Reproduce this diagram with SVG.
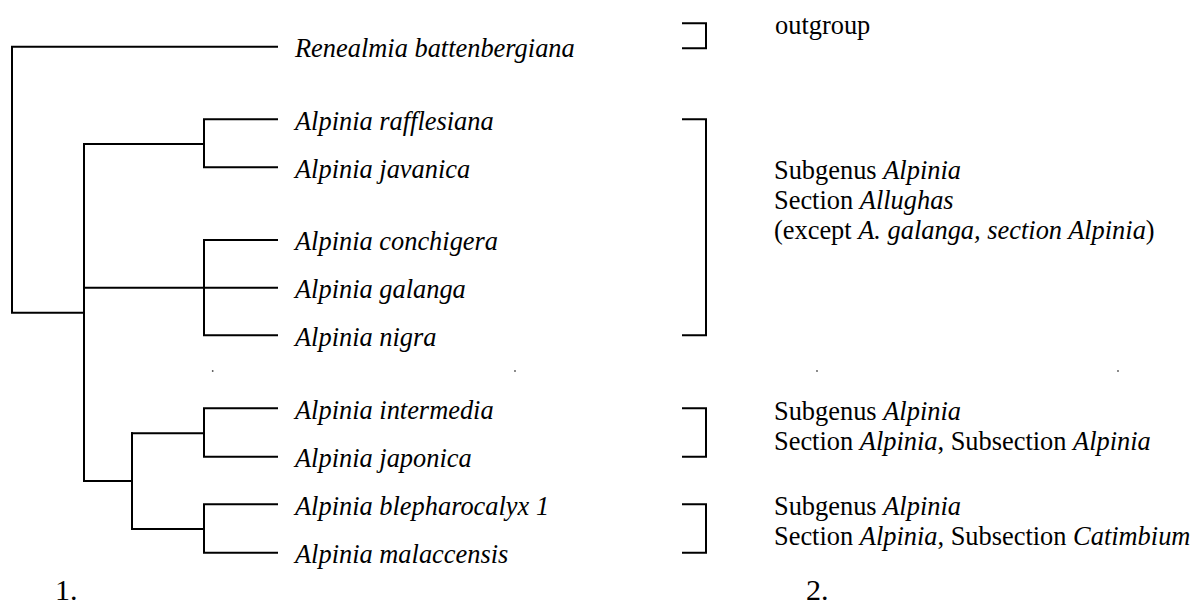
<svg xmlns="http://www.w3.org/2000/svg" width="1193" height="607" viewBox="0 0 1193 607">
<style>
.ln{fill:none;stroke:#000;stroke-width:2;stroke-linecap:square}
.tx{font-family:"Liberation Serif","Times New Roman",serif;font-size:26.4px;fill:#000}
.it{font-style:italic}
.num{font-family:"Liberation Serif","Times New Roman",serif;font-size:30px;fill:#000}
.dot{fill:#555}
</style>
<rect width="1193" height="607" fill="#fff"/>
<g id="connectors">
<path class="ln" d="M277,46.7 H12 V312.7 H84"/>
<path class="ln" d="M84,144 V481"/>
<path class="ln" d="M84,144 H204 M204,119.3 V167.3 M204,119.3 H277 M204,167.3 H277"/>
<path class="ln" d="M84,287.7 H277"/>
<path class="ln" d="M204,240 V335.3 M204,240 H277 M204,335.3 H277"/>
<path class="ln" d="M84,481 H132 M132,433.3 V529"/>
<path class="ln" d="M132,433.3 H204 M204,408.3 V456.7 M204,408.3 H277 M204,456.7 H277"/>
<path class="ln" d="M132,529 H204 M204,504.3 V552.7 M204,504.3 H277 M204,552.7 H277"/>
</g>
<g id="taxa">
<g id="t1"><text class="tx it" x="295" y="57">Renealmia battenbergiana</text></g>
<g id="t2"><text class="tx it" x="295" y="129.5">Alpinia rafflesiana</text></g>
<g id="t3"><text class="tx it" x="295" y="177.5">Alpinia javanica</text></g>
<g id="t4"><text class="tx it" x="295" y="250">Alpinia conchigera</text></g>
<g id="t5"><text class="tx it" x="295" y="298">Alpinia galanga</text></g>
<g id="t6"><text class="tx it" x="295" y="345.5">Alpinia nigra</text></g>
<g id="t7"><text class="tx it" x="295" y="418.5">Alpinia intermedia</text></g>
<g id="t8"><text class="tx it" x="295" y="467">Alpinia japonica</text></g>
<g id="t9"><text class="tx it" x="295" y="514.5">Alpinia blepharocalyx 1</text></g>
<g id="t10"><text class="tx it" x="295" y="563">Alpinia malaccensis</text></g>
</g>
<g id="brackets">
<path class="ln" d="M683,23.3 H706 V48.3 H683"/>
<path class="ln" d="M683,119.3 H706 V335.3 H683"/>
<path class="ln" d="M683,408.3 H706 V456.7 H683"/>
<path class="ln" d="M683,504.3 H706 V552.7 H683"/>
</g>
<g id="g-outgroup"><text class="tx" x="775" y="33.5">outgroup</text></g>
<g id="g-alluhgas">
<text class="tx" x="774" y="178.5">Subgenus <tspan class="it">Alpinia</tspan></text>
<text class="tx" x="774" y="208.5">Section <tspan class="it">Allughas</tspan></text>
<text class="tx" x="774" y="238.5">(except <tspan class="it">A. galanga, section Alpinia</tspan>)</text>
</g>
<g id="g-alpinia">
<text class="tx" x="774" y="419.5">Subgenus <tspan class="it">Alpinia</tspan></text>
<text class="tx" x="774" y="449.5">Section <tspan class="it">Alpinia</tspan>, Subsection <tspan class="it">Alpinia</tspan></text>
</g>
<g id="g-catimbium">
<text class="tx" x="774" y="515">Subgenus <tspan class="it">Alpinia</tspan></text>
<text class="tx" x="774" y="545">Section <tspan class="it">Alpinia</tspan>, Subsection <tspan class="it">Catimbium</tspan></text>
</g>
<g id="labels">
<text class="num" x="55" y="600">1.</text>
<text class="num" x="806" y="600">2.</text>
</g>
<g id="specks">
<circle class="dot" cx="212.7" cy="371" r="0.9"/>
<circle class="dot" cx="515" cy="371" r="0.9"/>
<circle class="dot" cx="817" cy="371" r="0.9"/>
<circle class="dot" cx="1118" cy="371" r="0.9"/>
</g>
</svg>
